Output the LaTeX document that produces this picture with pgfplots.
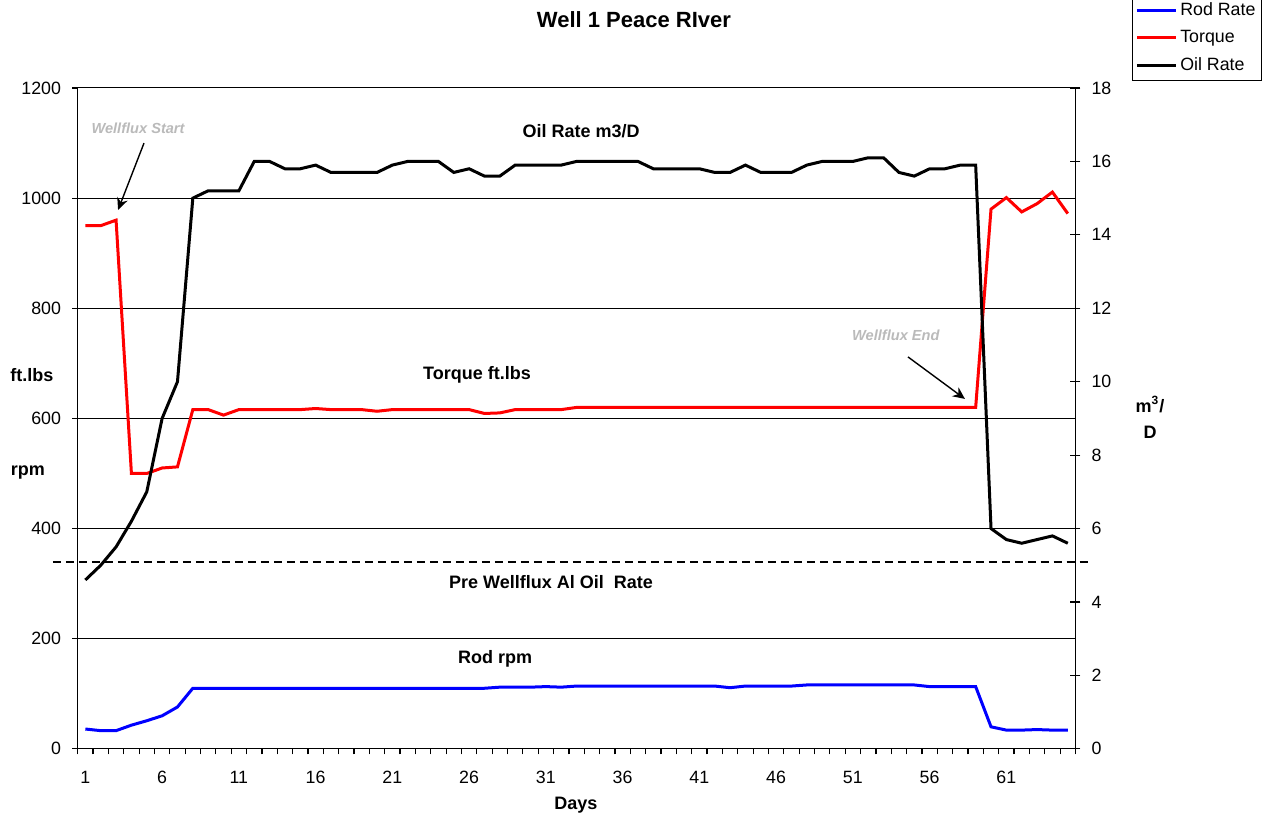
\documentclass[border=0pt]{standalone}
\usepackage{pgfplots}
\pgfplotsset{compat=1.18}
\usepackage{pgfplotstable}
\usepackage{fontspec}
\setmainfont{Liberation Sans}
\usetikzlibrary{arrows.meta}

% day, rod rpm, torque (ft.lbs), oil rate (m3/D)
\pgfplotstableread{
day rod torque oil
1 36 950 4.6
2 33 950 5.0
3 33 960 5.5
4 43 500 6.2
5 51 500 7.0
6 60 510 9.0
7 76 512 10.0
8 110 616 15.0
9 110 616 15.2
10 110 606 15.2
11 110 616 15.2
12 110 616 16.0
13 110 616 16.0
14 110 616 15.8
15 110 616 15.8
16 110 618 15.9
17 110 616 15.7
18 110 616 15.7
19 110 616 15.7
20 110 613 15.7
21 110 616 15.9
22 110 616 16.0
23 110 616 16.0
24 110 616 16.0
25 110 616 15.7
26 110 616 15.8
27 110 609 15.6
28 112 610 15.6
29 112 616 15.9
30 112 616 15.9
31 113 616 15.9
32 112 616 15.9
33 114 620 16.0
34 114 620 16.0
35 114 620 16.0
36 114 620 16.0
37 114 620 16.0
38 114 620 15.8
39 114 620 15.8
40 114 620 15.8
41 114 620 15.8
42 114 620 15.7
43 111 620 15.7
44 114 620 15.9
45 114 620 15.7
46 114 620 15.7
47 114 620 15.7
48 116 620 15.9
49 116 620 16.0
50 116 620 16.0
51 116 620 16.0
52 116 620 16.1
53 116 620 16.1
54 116 620 15.7
55 116 620 15.6
56 113 620 15.8
57 113 620 15.8
58 113 620 15.9
59 113 620 15.9
60 40 980 6.0
61 34 1001 5.7
62 34 975 5.6
63 35 990 5.7
64 34 1011 5.8
65 34 972 5.6
}\welldata

\pgfplotsset{
  wellaxis/.style={
    scale only axis,
    width=499pt, height=330.5pt,
    xmin=0.5, xmax=65.5,
    axis line style={-, black, line width=0.6pt},
    tick style={black, line width=0.6pt},
    tick label style={font=\fontsize{8.9}{10.5}\selectfont},
    /pgf/number format/assume math mode=true,
    /pgf/number format/1000 sep={},
  },
}

\begin{document}
\begin{tikzpicture}[font=\fontsize{8.9}{10.5}\selectfont]
\begin{axis}[
  wellaxis,
  ymin=0, ymax=1200,
  ytick={0,200,...,1200},
  axis x line*=bottom, axis y line*=left,
  tick align=outside, major tick length=2.8pt,
  xtick={0.5,1.5,...,65.5},
  xticklabels={1,,,,,6,,,,,11,,,,,16,,,,,21,,,,,26,,,,,31,,,,,36,,,,,41,,,,,46,,,,,51,,,,,56,,,,,61},
  xticklabel style={xshift=3.84pt, yshift=-5pt},
  yticklabel style={xshift=-2pt},
  ymajorgrids, grid style={black, line width=0.5pt},
  clip=false,
  legend style={at={(axis cs:77.65,1213)}, anchor=south east, draw=black,
    line width=0.5pt, inner sep=1.5pt, row sep=2pt,
    nodes={inner ysep=2pt, inner xsep=1.5pt},
    font=\fontsize{8.9}{10.5}\selectfont},
  legend cell align=left,
  legend image code/.code={\draw[#1] (0pt,0pt) -- (19.5pt,0pt);},
]
\coordinate (bbsw) at (axis cs:-4.562,-123.46);
\coordinate (bbne) at (axis cs:78.435,1359.8);

\addplot[blue, line width=1.5pt] table[x=day, y=rod] {\welldata};
\addlegendentry{Rod Rate}
\addplot[red, line width=1.5pt] table[x=day, y=torque] {\welldata};
\addlegendentry{Torque}
\addlegendimage{black, line width=1.5pt}
\addlegendentry{Oil Rate}

% pre Wellflux oil rate level
\addplot[black, line width=1pt, dash pattern=on 4pt off 2.5pt, forget plot]
  coordinates {(-1.11,340) (66.3,340)};

\node[font=\bfseries\fontsize{11}{13}\selectfont] at (axis cs:36.74,1323.5) {Well 1 Peace RIver};
\node[font=\bfseries\fontsize{9}{11}\selectfont] at (axis cs:32.96,-101.7) {Days};
\node[font=\bfseries\fontsize{9}{11}\selectfont] at (axis cs:-2.48,679) {ft.lbs};
\node[font=\bfseries\fontsize{9}{11}\selectfont] at (axis cs:-2.74,501) {rpm};
\node[font=\bfseries\fontsize{9}{11}\selectfont, align=center] at (axis cs:70.36,602)
  {m\textsuperscript{3}/\\[2pt]D};

\node[font=\bfseries\fontsize{9}{11}\selectfont] at (axis cs:33.29,1122) {Oil Rate m3/D};
\node[font=\bfseries\fontsize{9}{11}\selectfont] at (axis cs:26.51,679) {Torque ft.lbs};
\node[font=\bfseries\fontsize{9}{11}\selectfont] at (axis cs:31.33,303) {Pre Wellflux Al Oil\ \ Rate};
\node[font=\bfseries\fontsize{9}{11}\selectfont] at (axis cs:27.69,164) {Rod rpm};

\node[font=\bfseries\itshape\fontsize{7.3}{9}\selectfont, text=black!27] at (axis cs:4.43,1127) {Wellflux Start};
\draw[-{Stealth[length=6pt,width=5.5pt]}, line width=0.7pt] (axis cs:4.82,1100) -- (axis cs:3.13,978.6);
\node[font=\bfseries\itshape\fontsize{7.3}{9}\selectfont, text=black!27] at (axis cs:53.8,751.6) {Wellflux End};
\draw[-{Stealth[length=6pt,width=5.5pt]}, line width=0.7pt] (axis cs:54.59,711.7) -- (axis cs:58.3,635.4);
\end{axis}

\begin{axis}[
  wellaxis,
  ymin=0, ymax=18,
  ytick={0,2,...,18},
  axis x line=none, axis y line*=right,
  tick align=center, major tick length=5pt,
  yticklabel style={xshift=2pt},
]
\addplot[black, line width=1.5pt] table[x=day, y=oil] {\welldata};
\end{axis}

\pgfresetboundingbox
\path (bbsw) rectangle (bbne);
\end{tikzpicture}
\end{document}
